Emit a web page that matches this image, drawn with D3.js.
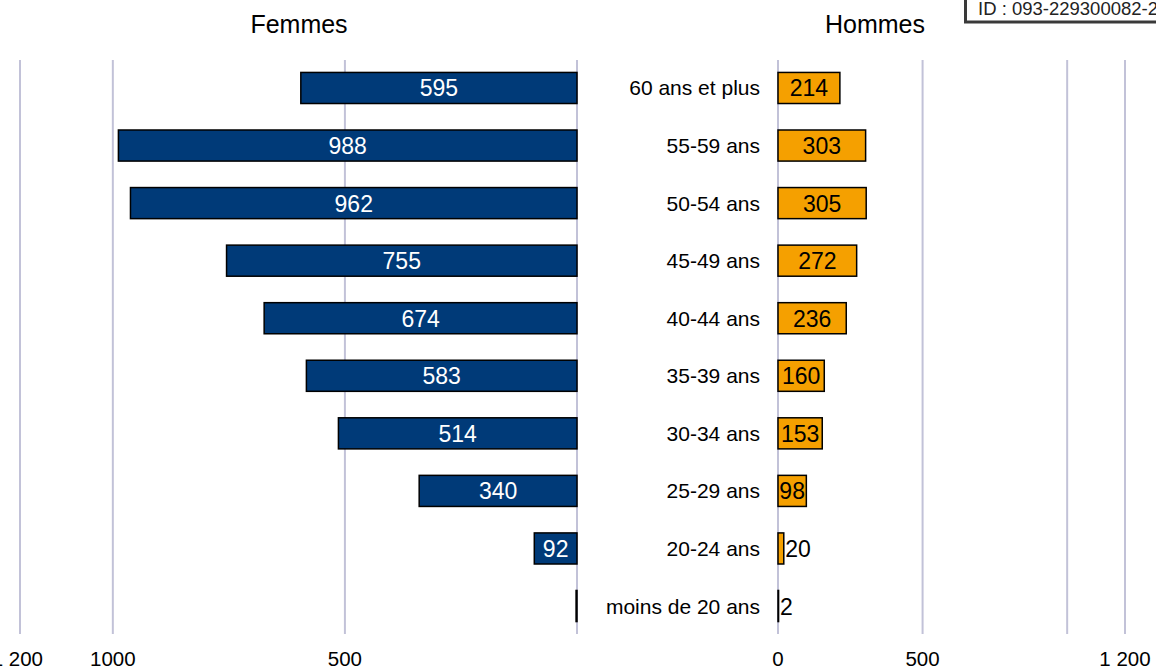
<!DOCTYPE html>
<html>
<head>
<meta charset="utf-8">
<script src="https://cdn.jsdelivr.net/npm/d3@7"></script>
<style>
  html, body { margin: 0; padding: 0; background: #fff; overflow: hidden; }
  svg { display: block; font-family: "Liberation Sans", Arial, sans-serif; }
</style>
</head>
<body>
<svg id="chart" width="1156" height="670"></svg>
<script>
const categories = ["60 ans et plus","55-59 ans","50-54 ans","45-49 ans","40-44 ans","35-39 ans","30-34 ans","25-29 ans","20-24 ans","moins de 20 ans"];
const femmes = [595, 988, 962, 755, 674, 583, 514, 340, 92, 2];
const hommes = [214, 303, 305, 272, 236, 160, 153, 98, 20, 2];
const leftTicks = [1200, 1000, 500, 0];
const leftTickLabels = ["1 200", "1000", "500", ""];
const rightTicks = [0, 500, 1000, 1200];
const rightTickLabels = ["0", "500", "", "1 200"];
const titles = ["Femmes", "Hommes"];
const idText = "ID : 093-229300082-2";

const svg = d3.select("#chart");

const y = d3.scaleBand().domain(categories).range([59.2, 634.8]).paddingInner(0.46).paddingOuter(0.23);
const xL = d3.scaleLinear().domain([0, 1200]).range([577, 20]);
const xR = d3.scaleLinear().domain([0, 1200]).range([778, 1125]);

const gridColor = "#c2c2d8";
const blue = "#003a78";
const orange = "#f5a000";

// gridlines
svg.append("g").selectAll("line").data(leftTicks).join("line")
  .attr("x1", d => xL(d)).attr("x2", d => xL(d))
  .attr("y1", 60).attr("y2", 634)
  .attr("stroke", gridColor).attr("stroke-width", 2);
svg.append("g").selectAll("line").data(rightTicks).join("line")
  .attr("x1", d => xR(d)).attr("x2", d => xR(d))
  .attr("y1", 60).attr("y2", 634)
  .attr("stroke", gridColor).attr("stroke-width", 2);

// tick labels (outermost left label is clipped by the frame, as in the reference)
svg.append("g").selectAll("text").data(leftTicks).join("text")
  .attr("x", d => d === 1200 ? xL(d) + 23 : xL(d)).attr("y", 666)
  .attr("text-anchor", d => d === 1200 ? "end" : "middle")
  .attr("font-size", 20.5).attr("fill", "#000")
  .text((d, i) => leftTickLabels[i]);
svg.append("g").selectAll("text").data(rightTicks).join("text")
  .attr("x", d => xR(d)).attr("y", 666)
  .attr("text-anchor", "middle").attr("font-size", 20.5).attr("fill", "#000")
  .text((d, i) => rightTickLabels[i]);

// titles
svg.append("text").attr("x", 299).attr("y", 33).attr("text-anchor", "middle")
  .attr("font-size", 25).attr("fill", "#000").text(titles[0]);
svg.append("text").attr("x", 875).attr("y", 33).attr("text-anchor", "middle")
  .attr("font-size", 25).attr("fill", "#000").text(titles[1]);

// ID box
svg.append("rect").attr("x", 965.5).attr("y", -10).attr("width", 250).attr("height", 32)
  .attr("fill", "#fff").attr("stroke", "#3a3a3a").attr("stroke-width", 3);
svg.append("text").attr("x", 978).attr("y", 15).attr("font-size", 18.5).attr("fill", "#222").text(idText);

// female bars
const bw = y.bandwidth();
svg.append("g").selectAll("rect").data(femmes).join("rect")
  .attr("x", d => xL(d)).attr("y", (d, i) => y(categories[i]))
  .attr("width", d => xL(0) - xL(d)).attr("height", bw)
  .attr("fill", blue).attr("stroke", "#000").attr("stroke-width", 1.5);
svg.append("g").selectAll("text").data(femmes).join("text")
  .attr("x", d => (xL(d) + xL(0)) / 2)
  .attr("y", (d, i) => y(categories[i]) + bw / 2 + 8.5)
  .attr("text-anchor", "middle").attr("font-size", 23).attr("fill", "#fff")
  .text(d => d >= 10 ? d : "");

// male bars
svg.append("g").selectAll("rect").data(hommes).join("rect")
  .attr("x", xR(0)).attr("y", (d, i) => y(categories[i]))
  .attr("width", d => xR(d) - xR(0)).attr("height", bw)
  .attr("fill", orange).attr("stroke", "#000").attr("stroke-width", 1.5);
svg.append("g").selectAll("text").data(hommes).join("text")
  .attr("y", (d, i) => y(categories[i]) + bw / 2 + 8.5)
  .attr("font-size", 23).attr("fill", "#000")
  .text(d => d)
  .each(function(d) {
    const t = d3.select(this);
    const tw = this.getComputedTextLength();
    const w = xR(d) - xR(0);
    if (tw <= w) {
      t.attr("x", (xR(d) + xR(0)) / 2).attr("text-anchor", "middle");
    } else {
      t.attr("x", xR(d) + 1.5).attr("text-anchor", "start");
    }
  });

// category labels
svg.append("g").selectAll("text").data(categories).join("text")
  .attr("x", 760).attr("y", d => y(d) + bw / 2 + 7.5)
  .attr("text-anchor", "end").attr("font-size", 21).attr("fill", "#000")
  .text(d => d);
</script>
</body>
</html>
